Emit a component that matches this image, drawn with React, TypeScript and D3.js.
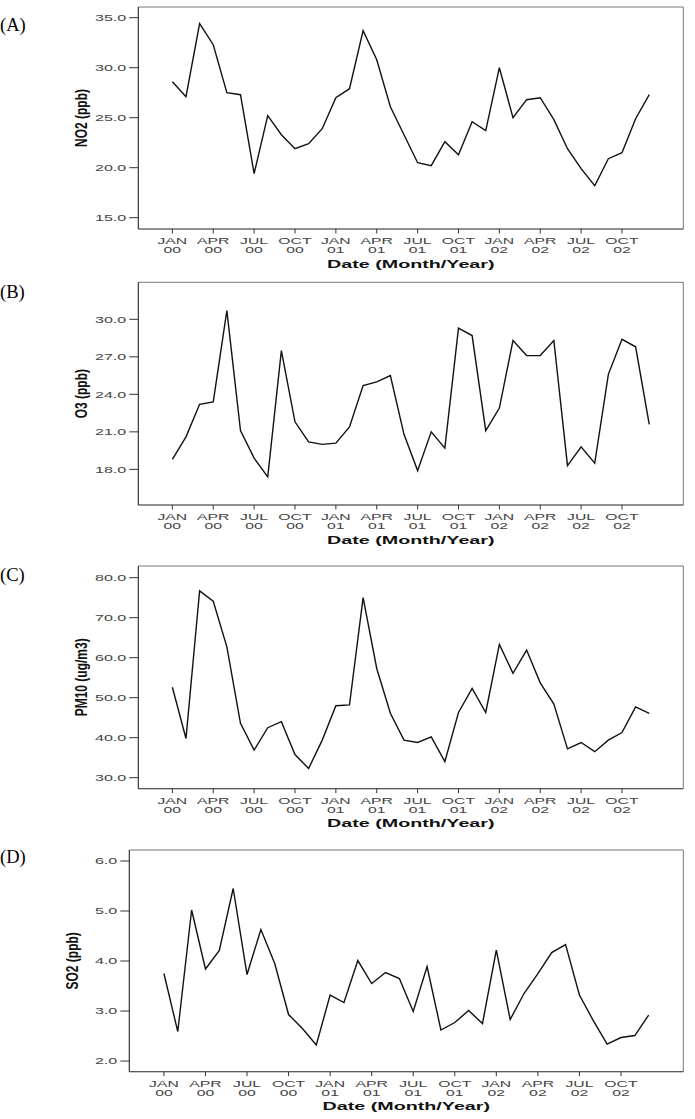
import React from "react";
import * as d3 from "d3";

// monthly means, Jan 2000 - Dec 2002
const no2 = [
  28.6, 27.1, 34.4, 32.3, 27.5, 27.3, 19.4, 25.2, 23.3, 21.9, 22.4, 23.9,
  27.0, 27.9, 33.7, 30.8, 26.1, 23.3, 20.5, 20.2, 22.6, 21.3, 24.6, 23.7,
  30.0, 25.0, 26.8, 27.0, 24.8, 21.9, 19.9, 18.2, 20.9, 21.5, 24.9, 27.3,
];
const o3 = [
  18.8, 20.6, 23.2, 23.4, 30.7, 21.1, 18.9, 17.4, 27.5, 21.8, 20.2, 20.0,
  20.1, 21.4, 24.7, 25.0, 25.5, 20.8, 17.9, 21.0, 19.7, 29.3, 28.7, 21.1,
  22.9, 28.3, 27.1, 27.1, 28.3, 18.3, 19.8, 18.5, 25.6, 28.4, 27.8, 21.6,
];
const pm10 = [
  52.6, 39.8, 76.7, 74.1, 62.7, 43.6, 36.9, 42.5, 44.0, 35.8, 32.3, 39.4,
  48.0, 48.2, 75.0, 57.3, 46.1, 39.4, 38.8, 40.2, 34.0, 46.3, 52.3, 46.3,
  63.3, 56.1, 61.9, 53.7, 48.4, 37.2, 38.8, 36.5, 39.4, 41.3, 47.7, 46.1,
];
const so2 = [
  3.75, 2.59, 5.02, 3.84, 4.21, 5.45, 3.73, 4.63, 3.95, 2.93, 2.65, 2.32,
  3.32, 3.17, 4.01, 3.55, 3.77, 3.65, 2.99, 3.89, 2.62, 2.77, 3.01, 2.75,
  4.22, 2.83, 3.35, 3.75, 4.17, 4.33, 3.32, 2.81, 2.34, 2.47, 2.51, 2.92,
];

const tickMonths = ["JAN", "APR", "JUL", "OCT"];
const tickYears = ["00", "01", "02"];

const no2Ticks = [15, 20, 25, 30, 35];
const o3Ticks = [18, 21, 24, 27, 30];
const pm10Ticks = [30, 40, 50, 60, 70, 80];
const so2Ticks = [2, 3, 4, 5, 6];

const panels = [
  { tag: "(A)", title: "NO2 (ppb)", values: no2, ticks: no2Ticks, dom: [13.87, 36.07], left: 138.3, top: 7, bottom: 229, tagY: 31 },
  { tag: "(B)", title: "O3 (ppb)", values: o3, ticks: o3Ticks, dom: [15.15, 32.96], left: 138.3, top: 282.3, bottom: 505, tagY: 298 },
  { tag: "(C)", title: "PM10 (ug/m3)", values: pm10, ticks: pm10Ticks, dom: [27.25, 82.92], left: 138.3, top: 566, bottom: 788.7, tagY: 581 },
  { tag: "(D)", title: "SO2 (ppb)", values: so2, ticks: so2Ticks, dom: [1.787, 6.22], left: 129.3, top: 850, bottom: 1071.7, tagY: 863 },
];

const RIGHT = 683.3;
const SX = 1.75; // the source image is stretched sideways
const tickFont = "'Liberation Sans', Arial, sans-serif";

function Panel({ p }: { p: (typeof panels)[number] }) {
  const x = d3.scaleLinear().domain([-2.5, 37.5]).range([p.left, RIGHT]);
  const y = d3.scaleLinear().domain(p.dom).range([p.bottom, p.top]);
  const line = d3
    .line<number>()
    .x((d, i) => x(i))
    .y((d) => y(d));
  const xTicks = d3.range(0, 36, 3);
  const cx = (p.left + RIGHT) / 2;
  const cy = (p.top + p.bottom) / 2;

  return (
    <g>
      <text x={0} y={p.tagY} fontFamily="'Liberation Serif', 'Times New Roman', serif" fontSize={18.5}>
        {p.tag}
      </text>
      {/* frame */}
      <line x1={p.left} x2={RIGHT} y1={p.top} y2={p.top} stroke="#777" strokeWidth={1} />
      <line x1={RIGHT} x2={RIGHT} y1={p.top} y2={p.bottom} stroke="#777" strokeWidth={1} />
      <line x1={p.left} x2={p.left} y1={p.top} y2={p.bottom} stroke="#222" strokeWidth={1.1} />
      <line x1={p.left} x2={RIGHT} y1={p.bottom} y2={p.bottom} stroke="#222" strokeWidth={1.1} />

      {p.ticks.map((t) => (
        <g key={t}>
          <line x1={p.left - 9} x2={p.left} y1={y(t)} y2={y(t)} stroke="#333" />
          <text
            transform={`translate(${p.left - 12},${y(t) + 3.3}) scale(${SX},1)`}
            textAnchor="end"
            fontFamily={tickFont}
            fontSize={9.2}
            fill="#444"
          >
            {t.toFixed(1)}
          </text>
        </g>
      ))}

      {xTicks.map((m) => (
        <g key={m}>
          <line x1={x(m)} x2={x(m)} y1={p.bottom} y2={p.bottom + 4.5} stroke="#333" />
          <text
            transform={`translate(${x(m)},${p.bottom + 14.8}) scale(1.9,1)`}
            textAnchor="middle"
            fontFamily={tickFont}
            fontSize={8.3}
            fill="#444"
          >
            {tickMonths[(m / 3) % 4]}
          </text>
          <text
            transform={`translate(${x(m)},${p.bottom + 24.3}) scale(1.9,1)`}
            textAnchor="middle"
            fontFamily={tickFont}
            fontSize={8.3}
            fill="#444"
          >
            {tickYears[Math.floor(m / 12)]}
          </text>
        </g>
      ))}

      <text
        transform={`translate(${cx},${p.bottom + 38.5}) scale(1.7,1)`}
        textAnchor="middle"
        fontFamily={tickFont}
        fontWeight="bold"
        fontSize={11.6}
        fill="#111"
      >
        Date (Month/Year)
      </text>
      <text
        transform={`translate(${p.left - 51},${cy}) scale(1.3,1) rotate(-90)`}
        textAnchor="middle"
        fontFamily="'Liberation Sans Narrow', 'Arial Narrow', 'Liberation Sans', sans-serif"
        fontWeight="bold"
        fontSize={12}
        fill="#111"
      >
        {p.title}
      </text>

      <path d={line(p.values) || ""} fill="none" stroke="#111" strokeWidth={1.4} strokeLinejoin="miter" />
    </g>
  );
}

export default function App() {
  return (
    <svg
      width={695}
      height={1119}
      style={{ position: "absolute", left: 0, top: 0, background: "#fff" }}
    >
      {panels.map((p) => (
        <Panel key={p.tag} p={p} />
      ))}
    </svg>
  );
}
